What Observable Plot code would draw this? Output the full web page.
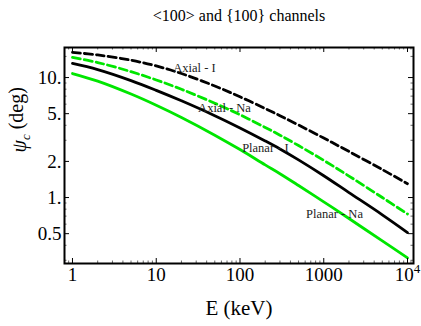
<!DOCTYPE html>
<html><head><meta charset="utf-8">
<script src="https://cdn.jsdelivr.net/npm/d3@7"></script>
<script src="https://cdn.jsdelivr.net/npm/@observablehq/plot@0.6"></script>
<style>body{margin:0;background:#fff} svg{display:block}</style>
</head><body><div id="chart"></div>
<script>
const title = "<100> and {100} channels";
const xLabel = "E (keV)";
const yLabel = "ψc (deg)";
const energy  = [1, 2, 5, 10, 20, 50, 100, 200, 300, 500, 1000, 2000, 5000, 10000];
const axialI  = [16.2, 15.43, 13.95, 12.49, 10.80, 8.51, 6.91, 5.52, 4.81, 4.02, 3.13, 2.42, 1.71, 1.305];
const axialNa = [14.7, 13.33, 11.2, 9.55, 7.98, 6.11, 4.90, 3.84, 3.31, 2.71, 2.04, 1.51, 1.00, 0.729];
const planarI = [13.1, 11.65, 9.43, 7.82, 6.40, 4.81, 3.80, 2.96, 2.54, 2.06, 1.52, 1.10, 0.718, 0.511];
const planarNa= [10.8, 9.34, 7.29, 5.88, 4.65, 3.31, 2.51, 1.87, 1.58, 1.26, 0.921, 0.669, 0.435, 0.314];
const seriesNames = ["Axial - I", "Axial - Na", "Planar - I", "Planar - Na"];
const labelE   = [28.6, 65.3, 201, 1343];
const labelPsi = [12.1, 5.62, 2.61, 0.736];
const xMajor = [1, 10, 100, 1000, 10000];
const xTickText = ["1", "10", "100", "1000", "10⁴"];
const yMajor = [0.5, 1, 2, 5, 10];
const yTickText = ["0.5", "1.", "2.", "5.", "10."];
const xMinor = [0.9, 2,3,4,5,6,7,8,9, 20,30,40,50,60,70,80,90, 200,300,400,500,600,700,800,900, 2000,3000,4000,5000,6000,7000,8000,9000, 11000];
const yMinor = [0.3,0.4,0.6,0.7,0.8,0.9,3,4,6,7,8,9,15];

const W = 421, H = 326, mL = 64, mR = 8, mT = 47, mB = 63;
const iW = W - mL - mR, iH = H - mT - mB;
const serif = "Liberation Serif, Times New Roman, serif";
const green = "#00e600";

const curves = [axialI, axialNa, planarI, planarNa];
const styles = [
  {stroke: "black", dash: "8,4"},
  {stroke: green, dash: "8,4"},
  {stroke: "black", dash: null},
  {stroke: green, dash: null}
];
const rows = curves.map((c, k) => energy.map((e, i) => ({E: e, psi: c[i], s: seriesNames[k]})));
const labels = seriesNames.map((n, i) => ({n, E: labelE[i], psi: labelPsi[i]}));

const plot = Plot.plot({
  width: W, height: H,
  marginLeft: mL, marginRight: mR, marginTop: mT, marginBottom: mB,
  style: {fontFamily: serif, background: "white"},
  x: {type: "log", domain: [0.803, 11790], axis: null},
  y: {type: "log", domain: [0.282, 17.8], axis: null},
  marks: [
    ...rows.map((r, k) => Plot.line(r, {x: "E", y: "psi", stroke: styles[k].stroke, strokeWidth: 2.8, strokeDasharray: styles[k].dash, curve: "catmull-rom"})),
    Plot.text(labels, {x: "E", y: "psi", text: "n", fontSize: 12.5, fill: "#222"}),
    Plot.ruleX(xMajor, {x: d => d, insetTop: iH - 5, stroke: "black", strokeWidth: 1}),
    Plot.ruleX(xMajor, {x: d => d, insetBottom: iH - 5, stroke: "black", strokeWidth: 1}),
    Plot.ruleX(xMinor, {x: d => d, insetTop: iH - 2.5, stroke: "black", strokeWidth: 0.6}),
    Plot.ruleX(xMinor, {x: d => d, insetBottom: iH - 2.5, stroke: "black", strokeWidth: 0.6}),
    Plot.ruleY(yMajor, {y: d => d, insetRight: iW - 5, stroke: "black", strokeWidth: 1}),
    Plot.ruleY(yMajor, {y: d => d, insetLeft: iW - 5, stroke: "black", strokeWidth: 1}),
    Plot.ruleY(yMinor, {y: d => d, insetRight: iW - 2.5, stroke: "black", strokeWidth: 0.6}),
    Plot.ruleY(yMinor, {y: d => d, insetLeft: iW - 2.5, stroke: "black", strokeWidth: 0.6}),
    Plot.text(xMajor, {x: d => d, frameAnchor: "bottom", dy: 4, lineAnchor: "top", fontSize: 19, text: (d, i) => xTickText[i]}),
    Plot.text(yMajor, {y: d => d, frameAnchor: "left", dx: -3, textAnchor: "end", fontSize: 19, text: (d, i) => yTickText[i]}),
    Plot.frame({stroke: "black", strokeWidth: 2}),
    Plot.text([title], {frameAnchor: "top", dy: -38, fontSize: 16, text: d => d}),
    Plot.text([xLabel], {frameAnchor: "bottom", dy: 51, fontSize: 21, text: d => d}),
    Plot.text([yLabel], {frameAnchor: "left", dx: -45, dy: -3, rotate: -90, fontSize: 20, text: d => d})
  ]
});
const svg = d3.select(plot);
svg.selectAll("text").filter(function(){ return this.textContent === yLabel; }).each(function(){
  const t = d3.select(this);
  t.text(null);
  t.append("tspan").attr("font-style", "italic").text("ψ");
  t.append("tspan").attr("font-style", "italic").attr("font-size", "13").attr("dy", "0.3em").text("c");
  t.append("tspan").attr("dy", "-0.35em").text(" (deg)");
});
svg.selectAll("text").filter(function(){ return this.textContent === "10⁴"; }).each(function(){
  const t = d3.select(this);
  t.text(null);
  t.append("tspan").text("10");
  t.append("tspan").attr("font-size", "13").attr("dy", "-0.6em").text("4");
});
svg.selectAll("text").style("font-family", serif);
document.getElementById("chart").append(plot);
</script></body></html>
